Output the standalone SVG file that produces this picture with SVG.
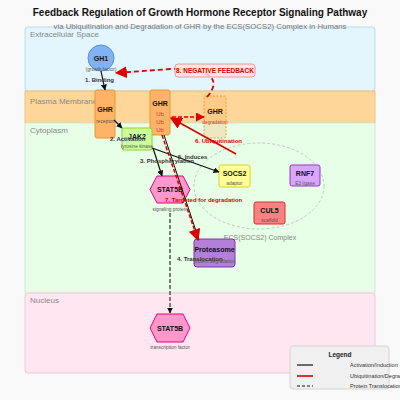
<svg xmlns="http://www.w3.org/2000/svg" width="400" height="400" viewBox="0 0 400 400">
<defs>
<style>
text{font-family:"Liberation Sans",Arial,sans-serif;}
.comp{stroke-width:1;}
.clabel{font-size:8px;fill:#888;}
.nt{font-size:7px;font-weight:bold;fill:#111;text-anchor:middle;}
.st{font-size:4.8px;fill:#555;text-anchor:middle;}
.ub{font-size:6px;fill:#d33;text-anchor:middle;}
.el{font-size:6px;font-weight:bold;fill:#333;}
.rl{font-size:6px;font-weight:bold;fill:#d00;}
.act{stroke:#111;stroke-width:1.2;fill:none;marker-end:url(#ab);}
.deg{stroke:#d00;stroke-width:1.6;fill:none;marker-end:url(#ar);}
.lg{font-size:5.5px;fill:#333;}
</style>
<marker id="ab" viewBox="0 0 10 10" refX="9" refY="5" markerWidth="6" markerHeight="6" orient="auto" markerUnits="userSpaceOnUse"><path d="M0,0 L10,5 L0,10 z" fill="#111"/></marker>
<marker id="ar" viewBox="0 0 10 10" refX="9" refY="5" markerWidth="12" markerHeight="12" orient="auto" markerUnits="userSpaceOnUse"><path d="M0,0 L10,5 L0,10 z" fill="#d00"/></marker>
<marker id="arm" viewBox="0 0 10 10" refX="9" refY="5" markerWidth="9" markerHeight="9" orient="auto" markerUnits="userSpaceOnUse"><path d="M0,0 L10,5 L0,10 z" fill="#d00"/></marker>
</defs>
<rect width="400" height="400" fill="#f9f9f9"/>

<g id="compartments">
<rect x="25" y="27" width="350" height="64" rx="3" fill="#e3f5fd" stroke="#b9def0" class="comp"/>
<text x="30" y="37" class="clabel">Extracellular Space</text>
<rect x="25" y="91" width="350" height="32" fill="#ffd699" stroke="#f0c080" class="comp"/>
<text x="30" y="104" class="clabel">Plasma Membrane</text>
<rect x="25" y="123" width="350" height="170" fill="#e6ffe6" stroke="#cfeccf" class="comp"/>
<text x="30" y="133" class="clabel">Cytoplasm</text>
<rect x="25" y="293" width="350" height="80" rx="3" fill="#ffe6f0" stroke="#f3c6d8" class="comp"/>
<text x="30" y="303" class="clabel">Nucleus</text>
</g>

<text x="200" y="16" text-anchor="middle" font-size="10" font-weight="bold" fill="#111">Feedback Regulation of Growth Hormone Receptor Signaling Pathway</text>
<text x="200" y="29" text-anchor="middle" font-size="7.8" fill="#777">via Ubiquitination and Degradation of GHR by the ECS(SOCS2) Complex in Humans</text>

<g id="ecs-complex">
<ellipse cx="259" cy="186" rx="65" ry="43" fill="none" stroke="#bbb" stroke-width="0.8" stroke-dasharray="3,2"/>
<text x="260" y="240" text-anchor="middle" font-size="7" fill="#888">ECS(SOCS2) Complex</text>
</g>

<g id="GH1">
<circle cx="101" cy="58" r="13" fill="#80b3f5" stroke="#5a8fd0" stroke-width="1"/>
<text x="101" y="61" class="nt">GH1</text>
<text x="101" y="71" class="st">(growth factor)</text>
</g>

<g id="GHR-receptor">
<rect x="95" y="90" width="20" height="48" rx="2" fill="#ffb366" stroke="#e69a33" stroke-width="1"/>
<text x="105" y="112" class="nt">GHR</text>
<text x="105" y="123" class="st">receptor</text>
</g>

<g id="GHR-ub">
<rect x="150" y="90" width="20" height="45" rx="2" fill="#ffb366" stroke="#e69a33" stroke-width="1"/>
<text x="160" y="106" class="nt">GHR</text>
<text x="160" y="116" class="ub">Ub</text>
<text x="160" y="124" class="ub">Ub</text>
<text x="160" y="132" class="ub">Ub</text>
</g>

<g id="GHR-degradation">
<rect x="204" y="96" width="22" height="42" rx="2" fill="#ffb366" fill-opacity="0.3" stroke="#e6a033" stroke-width="1" stroke-dasharray="2,1.5"/>
<text x="215" y="114" class="nt">GHR</text>
<text x="215" y="124" font-size="4.8" fill="#d33" text-anchor="middle">degradation</text>
</g>

<g id="JAK2">
<rect x="122" y="128" width="30" height="22" rx="2" fill="#ccff99" stroke="#99cc33" stroke-width="1"/>
<text x="137" y="139" class="nt">JAK2</text>
<text x="137" y="148" class="st">tyrosine kinase</text>
</g>

<g id="SOCS2">
<rect x="219" y="165" width="31" height="22" rx="2" fill="#ffff99" stroke="#e0d020" stroke-width="1"/>
<text x="234.5" y="176" class="nt">SOCS2</text>
<text x="234.5" y="185" class="st">adaptor</text>
</g>

<g id="RNF7">
<rect x="290" y="165" width="30" height="21" rx="2" fill="#d9a6ff" stroke="#9933cc" stroke-width="1"/>
<text x="305" y="176" class="nt">RNF7</text>
<text x="305" y="185" class="st">E3 ligase</text>
</g>

<g id="CUL5">
<rect x="254" y="202" width="31" height="22" rx="2" fill="#ff8080" stroke="#cc3333" stroke-width="1"/>
<text x="269.5" y="213" class="nt">CUL5</text>
<text x="269.5" y="222" class="st">scaffold</text>
</g>

<g id="STAT5B-cyto">
<polygon points="150,189.5 157,176 183,176 190,189.5 183,203 157,203" fill="#ff99cc" stroke="#e6007a" stroke-width="1"/>
<text x="170" y="192" class="nt">STAT5B</text>
<text x="170" y="211" class="st">signaling protein</text>
</g>

<g id="Proteasome">
<rect x="194" y="239" width="41" height="28" rx="3" fill="#b380d9" stroke="#8033b3" stroke-width="1"/>
<text x="214.5" y="252" class="nt">Proteasome</text>
<text x="214.5" y="263" class="st">protein degradation</text>
</g>

<g id="STAT5B-nucleus">
<polygon points="150,328 157,314 183,314 190,328 183,342 157,342" fill="#ff99cc" stroke="#e6007a" stroke-width="1"/>
<text x="170" y="331" class="nt">STAT5B</text>
<text x="170" y="349" class="st">transcription factor</text>
</g>

<g id="connectors">
<line x1="101" y1="71" x2="105" y2="90" class="act"/>
<line x1="114" y1="120" x2="122" y2="128" class="act"/>
<line x1="153" y1="148" x2="162" y2="176" class="act"/>
<line x1="152" y1="148" x2="219" y2="172" class="act"/>
<line x1="164" y1="135" x2="199" y2="240" stroke="#111" stroke-width="1"/>
<line x1="162" y1="135" x2="198" y2="240" class="deg" stroke-dasharray="4,2"/>
<line x1="236" y1="154" x2="171" y2="118" class="deg"/>
<line x1="172" y1="117" x2="204" y2="117" stroke="#d00" stroke-width="1.6" stroke-dasharray="4,2" marker-end="url(#arm)"/>
<path d="M207 97 C222 80 212 68 170 69 L116 73" stroke="#d00" stroke-width="1.8" fill="none" stroke-dasharray="5,3" marker-end="url(#ar)"/>
<line x1="170" y1="213" x2="170" y2="313" stroke="#555" stroke-width="1.5" stroke-dasharray="4,2" marker-end="url(#ab)"/>
<text x="85" y="82" class="el">1. Binding</text>
<text x="110" y="141" class="el">2. Activation</text>
<text x="140" y="163" class="el">3. Phosphorylation</text>
<text x="178" y="159" class="el">5. Induces</text>
<text x="195" y="143" class="rl">6. Ubiquitination</text>
<text x="165" y="202" class="rl">7. Targeted for degradation</text>
<text x="177" y="261" class="el">4. Translocation</text>
</g>

<g id="feedback-label">
<rect x="175" y="64" width="80" height="13" rx="3" fill="#ffe0e0" fill-opacity="0.85" stroke="#e08a8a" stroke-width="0.8"/>
<text x="215" y="73" text-anchor="middle" font-size="6.5" font-weight="bold" fill="#d00">8. NEGATIVE FEEDBACK</text>
</g>

<g id="legend">
<rect x="290" y="346" width="99" height="43" rx="3" fill="#f0f0f0" stroke="#ccc" stroke-width="0.8"/>
<text x="340" y="357" text-anchor="middle" font-size="6.5" font-weight="bold" fill="#222">Legend</text>
<line x1="297" y1="365" x2="313" y2="365" stroke="#111" stroke-width="1.2"/>
<text x="350" y="367" class="lg">Activation/Induction</text>
<line x1="297" y1="376" x2="313" y2="376" stroke="#d00" stroke-width="1.6"/>
<text x="350" y="378" class="lg">Ubiquitination/Degradation</text>
<line x1="297" y1="386" x2="313" y2="386" stroke="#111" stroke-width="1.2" stroke-dasharray="3,2"/>
<text x="350" y="388" class="lg">Protein Translocation</text>
</g>
</svg>
